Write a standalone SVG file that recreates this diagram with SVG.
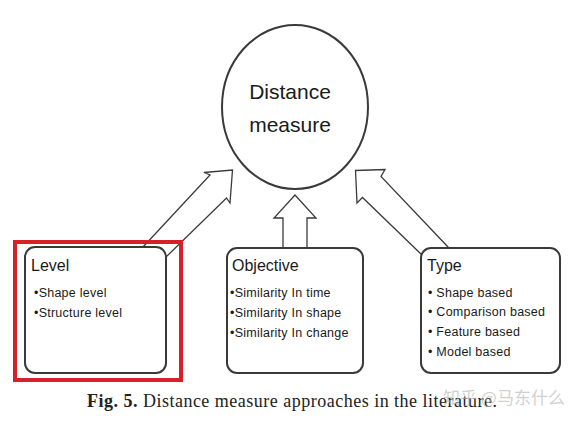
<svg xmlns="http://www.w3.org/2000/svg" width="585" height="425" viewBox="0 0 585 425">
<style>
.box{fill:#fff;stroke:#3a3a3a;stroke-width:2}
.arr{fill:#fff;stroke:#3a3a3a;stroke-width:1.3;stroke-linejoin:miter}
.title{font-family:"Liberation Sans",Arial,sans-serif;font-size:16px;fill:#1a1a1a}
.item{font-family:"Liberation Sans",Arial,sans-serif;font-size:12.5px;letter-spacing:0.25px;fill:#1a1a1a}
.big{font-family:"Liberation Sans",Arial,sans-serif;font-size:21px;fill:#1a1a1a;text-anchor:middle}
.cap{font-family:"Liberation Serif","Times New Roman",serif;font-size:18px;fill:#222}
</style>
<rect width="585" height="425" fill="#fff"/>
<g id="connectors">
<polygon class="arr" points="143,247 210,175 204,172.5 232.5,170 230,203 226.5,198 165,258"/>
<polygon class="arr" points="283,248 283,218 274,218 295,195 316,218 307,218 307,248"/>
<polygon class="arr" points="448,247 381,176.5 385,169.5 355.5,170.5 357,203 362.5,197.5 422,255"/>
</g>
<g id="distance-measure">
<ellipse cx="295" cy="107" rx="73" ry="82" fill="#fff" stroke="#3a3a3a" stroke-width="2"/>
<text class="big" x="290" y="99">Distance</text>
<text class="big" x="290" y="132">measure</text>
</g>
<g id="level">
<rect class="box" x="25" y="247" width="141" height="126" rx="10"/>
<text class="title" x="31" y="271">Level</text>
<text class="item" x="34" y="297">•Shape level</text>
<text class="item" x="34" y="317">•Structure level</text>
</g>
<g id="objective">
<rect class="box" x="227" y="248" width="136" height="125" rx="10"/>
<text class="title" x="232" y="271">Objective</text>
<text class="item" x="230" y="297">•Similarity In time</text>
<text class="item" x="230" y="317">•Similarity In shape</text>
<text class="item" x="230" y="337">•Similarity In change</text>
</g>
<g id="type">
<rect class="box" x="421" y="248" width="139" height="125" rx="10"/>
<text class="title" x="427" y="271">Type</text>
<text class="item" x="428" y="297">• Shape based</text>
<text class="item" x="428" y="316">• Comparison based</text>
<text class="item" x="428" y="336">• Feature based</text>
<text class="item" x="428" y="356">• Model based</text>
</g>
<rect id="highlight" x="15" y="242" width="166" height="138" fill="none" stroke="#d9202a" stroke-width="4"/>
<text class="cap" x="87" y="407" textLength="410" lengthAdjust="spacing"><tspan font-weight="bold">Fig. 5.</tspan> Distance measure approaches in the literature.</text>
<text x="443" y="404" font-family="'Noto Sans CJK SC',sans-serif" font-size="17" fill="#bbb" fill-opacity="0.7">知乎 @马东什么</text>
</svg>
